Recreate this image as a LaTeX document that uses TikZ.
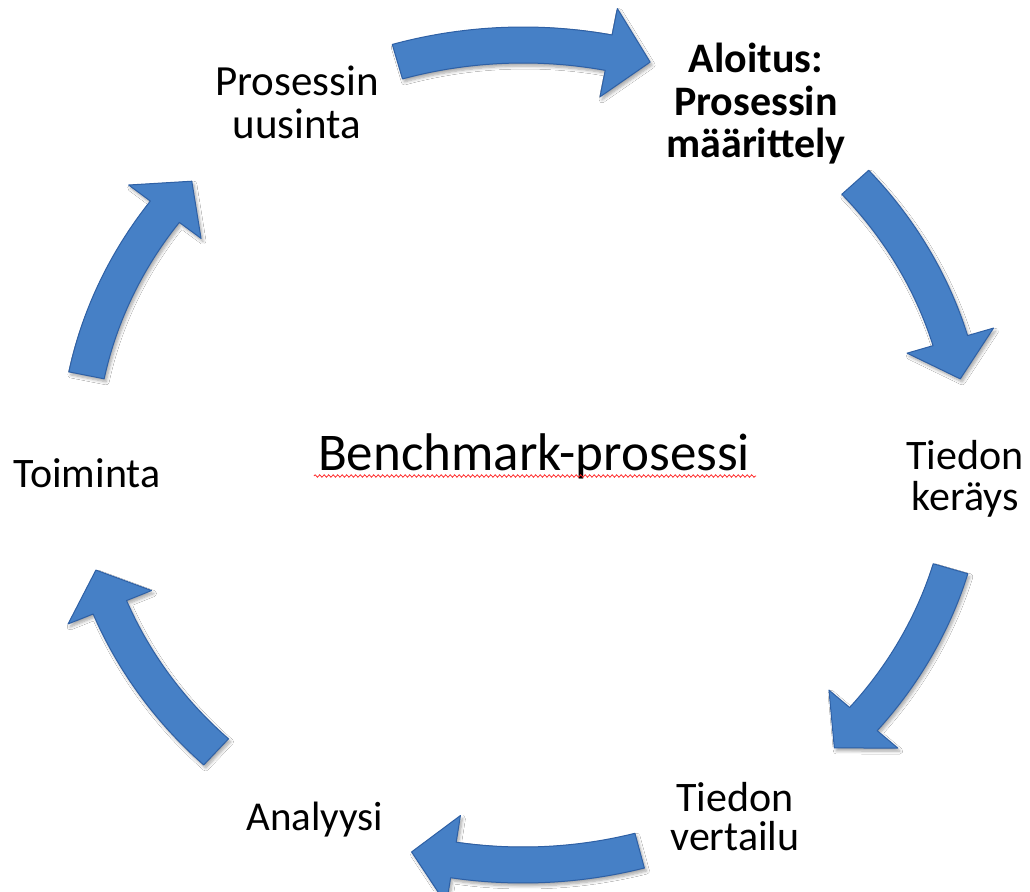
\documentclass[tikz,border=0pt]{standalone}
\usepackage{fontspec}
\setmainfont{Carlito}
\usetikzlibrary{shadows.blur,decorations.pathmorphing,calc}
\definecolor{arrowblue}{RGB}{70,128,198}
\definecolor{arrowedge}{RGB}{46,96,165}
\tikzset{
  arrowshape/.style={fill=arrowblue, draw=arrowedge, line width=1pt, line join=round,
    blur shadow={shadow xshift=2pt, shadow yshift=-3pt, shadow blur steps=6, shadow blur radius=3pt, shadow opacity=35}},
  lbl/.style={inner sep=0pt, align=center, font=\fontsize{43}{43}\selectfont},
}
% curved block arrow along the ellipse: #1 tail angle, #2 tip angle
\newcommand\cycarrow[2]{%
  \pgfmathsetmacro\myA{#1}\pgfmathsetmacro\myT{#2}\pgfmathsetmacro\myB{#2+5.5}%
  \fill[arrowshape]
    plot[domain=0:1,samples=40,variable=\s] ({523+463*cos(\myA+(\myB-\myA)*\s)},{455-428*sin(\myA+(\myB-\myA)*\s)})
    -- ({523+490*cos(\myB)},{455-455*sin(\myB)})
    -- ({523+445*cos(\myT)},{455-410*sin(\myT)})
    -- ({523+400*cos(\myB)},{455-365*sin(\myB)})
    -- plot[domain=0:1,samples=40,variable=\s] ({523+427*cos(\myB+(\myA-\myB)*\s)},{455-392*sin(\myB+(\myA-\myB)*\s)})
    -- cycle;}
\begin{document}
\begin{tikzpicture}[x=1pt,y=-1pt]
\fill[white] (0,0) rectangle (1030,891);
\useasboundingbox (0,0) rectangle (1030,891);
\cycarrow{106.4}{73.4}
\cycarrow{41.7}{10.7}
\cycarrow{-16.1}{-45.6}
\cycarrow{-74.8}{-104.5}
\cycarrow{-133.6}{-163.7}
\cycarrow{168.8}{138.1}
\node[lbl] (uusinta) at (297,102) {Prosessin\\uusinta};
\node[lbl, font=\bfseries\fontsize{42}{42.5}\selectfont] (aloitus) at (756,104) {Aloitus:\\Prosessin\\määrittely};
\node[lbl, font=\fontsize{42}{41}\selectfont] (kerays) at (965,479) {Tiedon\\keräys};
\node[lbl, font=\fontsize{42}{39}\selectfont] (vertailu) at (735,817) {Tiedon\\vertailu};
\node[lbl, anchor=base, font=\fontsize{41}{41}\selectfont] (analyysi) at (315,830) {Analyysi};
\node[lbl, anchor=base, font=\fontsize{42}{42}\selectfont] (toiminta) at (87,487) {Toiminta};
\node[lbl, anchor=base, font=\fontsize{53}{53}\selectfont] (bench) at (534,470) {Benchmark-prosessi};
\draw[red!85, line width=0.8pt, decorate, decoration={snake, amplitude=1.2pt, segment length=4.5pt}]
  ($(bench.base west)+(-4,6)$) -- ($(bench.base east)+(6,6)$);
\end{tikzpicture}
\end{document}
